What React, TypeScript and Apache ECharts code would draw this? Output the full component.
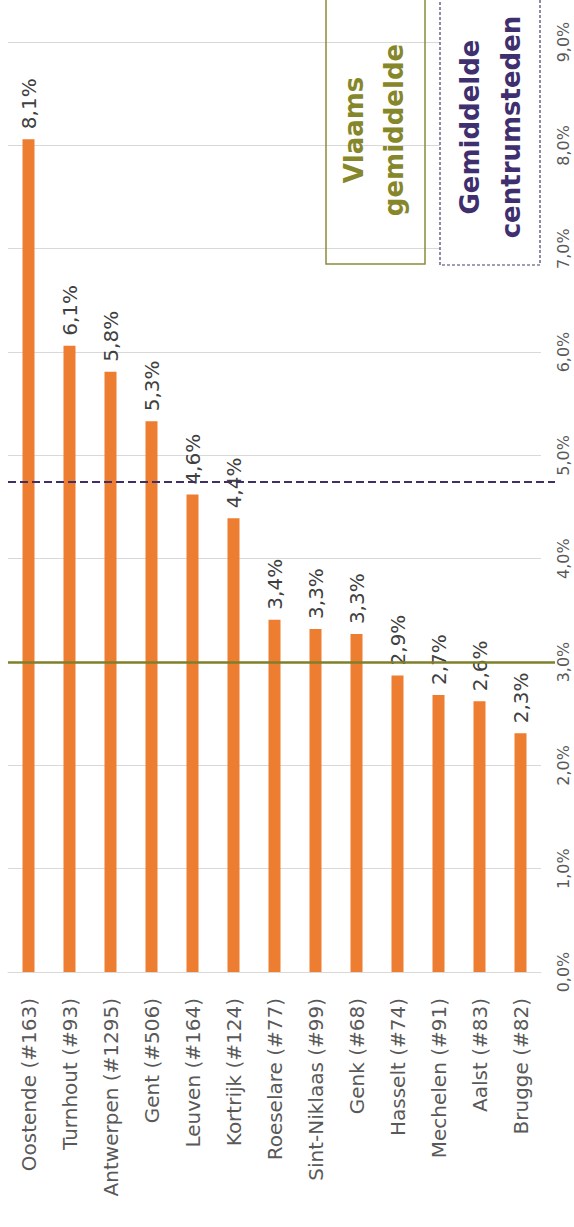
import React, { useEffect, useRef } from "react";
import * as echarts from "echarts";

const categories = [
  "Oostende (#163)",
  "Turnhout (#93)",
  "Antwerpen (#1295)",
  "Gent (#506)",
  "Leuven (#164)",
  "Kortrijk (#124)",
  "Roeselare (#77)",
  "Sint-Niklaas (#99)",
  "Genk (#68)",
  "Hasselt (#74)",
  "Mechelen (#91)",
  "Aalst (#83)",
  "Brugge (#82)",
];
const values = [8.06, 6.06, 5.81, 5.33, 4.62, 4.39, 3.41, 3.32, 3.27, 2.87, 2.68, 2.62, 2.31];
const vlaamsGemiddelde = 3.0;
const centrumstedenGemiddelde = 4.74;
const axisMin = 0;
const axisMax = 9;
const axisInterval = 1;

const FONT = "DejaVu Sans";
const fmt = (v: number) => v.toFixed(1).replace(".", ",") + "%";

export default function App() {
  const ref = useRef<HTMLDivElement>(null);
  useEffect(() => {
    document.body.style.margin = "0";
    const chart = echarts.init(ref.current!, null, { renderer: "svg" });
    const gridPos = { left: 8, right: 33, top: 42, bottom: 255 };
    chart.setOption({
      animation: false,
      backgroundColor: "#ffffff",
      grid: [
        { ...gridPos },
        { left: 8, right: 19, top: 42, bottom: 255 },
      ],
      xAxis: [
        {
          type: "category",
          data: categories,
          gridIndex: 0,
          axisTick: { show: false },
          axisLine: { lineStyle: { color: "#d9d9d9", width: 1 } },
          axisLabel: {
            rotate: 90,
            fontSize: 20,
            margin: 26,
            color: "#595959",
            fontFamily: FONT,
            interval: 0,
          },
        },
        { type: "value", gridIndex: 1, min: 0, max: 1, show: false },
      ],
      yAxis: [
        {
          type: "value",
          gridIndex: 0,
          position: "right",
          min: axisMin,
          max: axisMax,
          interval: axisInterval,
          axisLine: { show: false },
          axisTick: { show: false },
          splitLine: { lineStyle: { color: "#d9d9d9", width: 1 } },
          axisLabel: {
            rotate: 90,
            fontSize: 16,
            margin: 14,
            color: "#595959",
            fontFamily: FONT,
            formatter: (v: number) => fmt(v),
          },
        },
        { type: "value", gridIndex: 1, min: axisMin, max: axisMax, show: false },
      ],
      series: [
        {
          type: "bar",
          data: values,
          xAxisIndex: 0,
          yAxisIndex: 0,
          barWidth: 12,
          itemStyle: { color: "#ed7d31" },
          label: {
            show: true,
            position: "top",
            rotate: 90,
            align: "left",
            verticalAlign: "middle",
            distance: 10,
            fontSize: 20,
            color: "#404040",
            fontFamily: FONT,
            formatter: (p: any) => fmt(p.value),
          },
          z: 2,
        },
        {
          type: "line",
          xAxisIndex: 1,
          yAxisIndex: 1,
          data: [
            [0, 0],
            [1, 0],
          ],
          showSymbol: false,
          lineStyle: { opacity: 0 },
          z: 5,
          markLine: {
            silent: true,
            symbol: "none",
            label: { show: false },
            data: [
              {
                yAxis: centrumstedenGemiddelde,
                lineStyle: { color: "#3f2f66", width: 2, type: [8, 4] },
              },
              {
                yAxis: vlaamsGemiddelde,
                lineStyle: { color: "#7f7f2a", width: 2.5, type: "solid" },
              },
            ],
          },
        },
      ],
      graphic: [
        {
          type: "rect",
          shape: { x: 326, y: -5, width: 99, height: 269 },
          style: { fill: "none", stroke: "#8c8c3c", lineWidth: 1.5 },
          z: 10,
        },
        {
          type: "text",
          x: 374,
          y: 130,
          rotation: Math.PI / 2,
          style: {
            text: "Vlaams\ngemiddelde",
            fontFamily: FONT,
            fontWeight: "bold",
            fontSize: 26,
            lineHeight: 40,
            fill: "#86862a",
            align: "center",
            verticalAlign: "middle",
          },
          z: 11,
        },
        {
          type: "rect",
          shape: { x: 440, y: -5, width: 100, height: 270 },
          style: {
            fill: "#ffffff",
            stroke: "#4a3a6a",
            lineWidth: 1.2,
            lineDash: [3, 2],
          },
          z: 10,
        },
        {
          type: "text",
          x: 490,
          y: 127,
          rotation: Math.PI / 2,
          style: {
            text: "Gemiddelde\ncentrumsteden",
            fontFamily: FONT,
            fontWeight: "bold",
            fontSize: 26,
            lineHeight: 41,
            fill: "#3f2f6e",
            align: "center",
            verticalAlign: "middle",
          },
          z: 11,
        },
      ],
    });
    return () => chart.dispose();
  }, []);
  return <div ref={ref} style={{ width: 574, height: 1227 }} />;
}
